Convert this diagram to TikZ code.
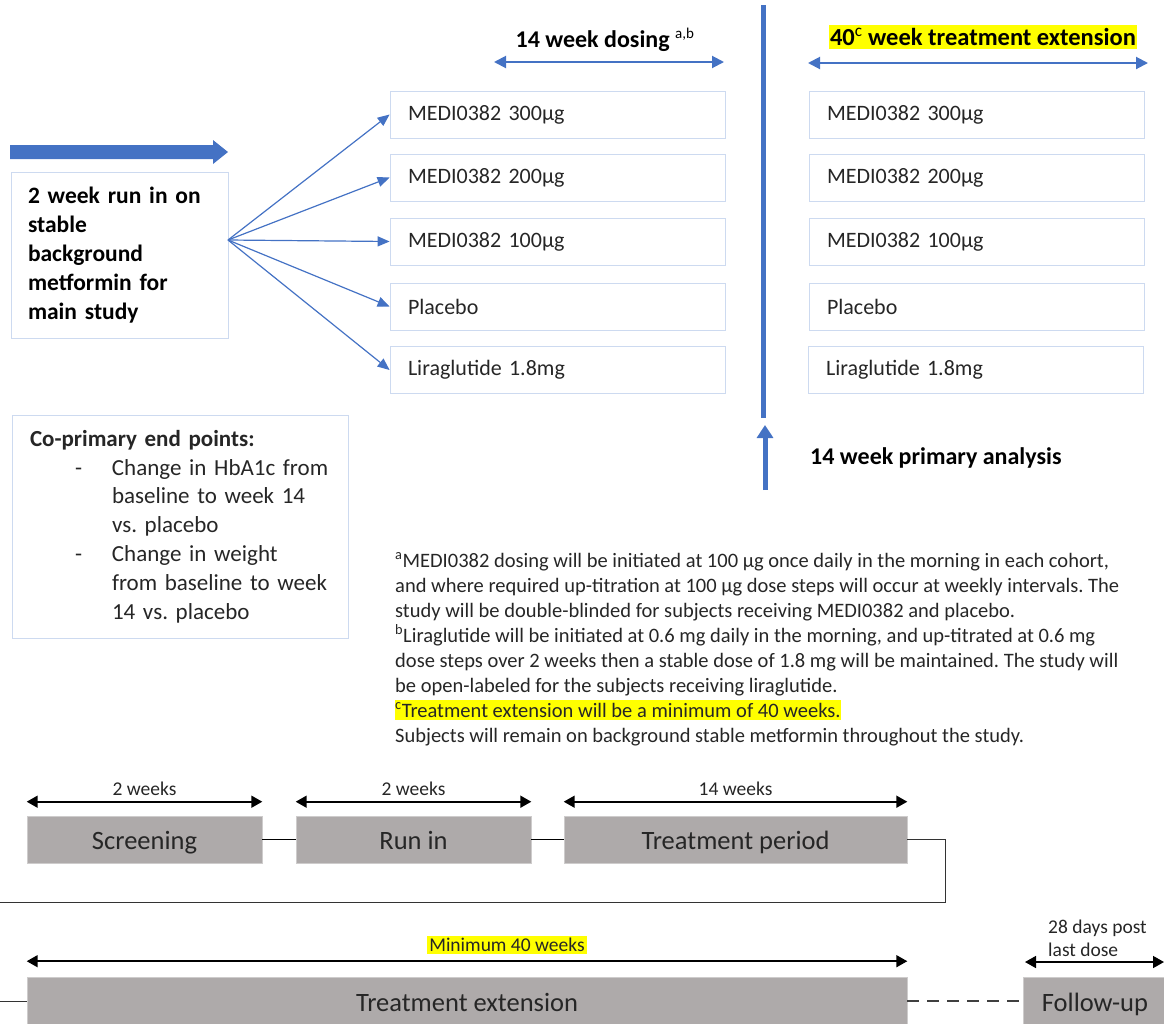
\documentclass[tikz,border=0pt]{standalone}
\usepackage{fontspec}
\setmainfont{Carlito}
\usetikzlibrary{arrows.meta}
\frenchspacing

\definecolor{msblue}{RGB}{68,114,196}
\definecolor{boxline}{RGB}{205,218,240}
\definecolor{bargray}{RGB}{174,170,170}
\definecolor{hlyellow}{RGB}{255,255,0}
\definecolor{txt}{RGB}{38,38,38}

\begin{document}
\begin{tikzpicture}[%
x=1pt, y=-1pt,
armbox/.style={draw=boxline, line width=0.8pt, text width=299pt, inner xsep=18pt, inner ysep=0pt, minimum height=47pt, align=left, font=\fontsize{22}{26}\selectfont, text=txt},
fanarrow/.style={msblue, line width=1.2pt, -{Triangle[length=12pt,width=10pt]}},
spanblue/.style={msblue, line width=2pt, {Triangle[length=12pt,width=12pt]}-{Triangle[length=12pt,width=12pt]}},
spanblack/.style={black, line width=1.6pt, {Triangle[length=11pt,width=12pt]}-{Triangle[length=11pt,width=12pt]}},
phase/.style={fill=bargray, draw=bargray!60!white, line width=0.6pt, minimum height=47pt, inner sep=0pt, text height=21pt, text depth=1pt, font=\fontsize{26.5}{30}\selectfont, text=txt},
weeklabel/.style={font=\fontsize{19.5}{24}\selectfont, text=txt, inner sep=1pt},
noteline/.style={anchor=base west, inner sep=0pt, font=\fontsize{20.5}{25}\selectfont, text=txt},
heading/.style={font=\bfseries\fontsize{24}{28}\selectfont, text=black},
]
\useasboundingbox (0,0) rectangle (1164,1023);
\clip (0,0) rectangle (1164,1023);
%% headings;
\node[heading] (dosing) at (605,40) {14 week dosing \textsuperscript{\mdseries\fontsize{15}{16}\selectfont a,b}};
\coordinate (dosL) at (494,62);
\coordinate (dosR) at (724,62);
\draw[spanblue] (dosL) -- (dosR);
\node[heading, font=\bfseries\fontsize{24.5}{28}\selectfont, fill=hlyellow, inner xsep=1pt, inner ysep=3pt] (extension) at (983,37) {40\textsuperscript{\mdseries c} week treatment extension};
\coordinate (extL) at (808,63);
\coordinate (extR) at (1148,63);
\draw[spanblue] (extL) -- (extR);
%% divider and primary analysis;
\draw[msblue, line width=5pt] (763,5) -- (763,418);
\coordinate (paFoot) at (765,490);
\coordinate (paTip) at (765,425);
\draw[msblue, line width=5pt, -{Triangle[length=13pt,width=16pt]}] (paFoot) -- (paTip);
\node[heading, anchor=west, inner sep=0pt] (primary) at (810,458) {14 week primary analysis};
%% run in;
\fill[msblue] (10,145) -- (213,145) -- (213,140) -- (228,152) -- (213,164) -- (213,159) -- (10,159) -- cycle;
\node[draw=boxline, line width=0.8pt, text width=183pt, inner xsep=17pt, minimum height=166pt, align=left, font=\bfseries\fontsize{23.5}{29}\selectfont, text=black] (runbox) at (119.5,255) {2 week run in on\\stable\\background\\metformin for\\main study};
\coordinate (fan) at (228,240);
%% arms;
\node[armbox] (d300) at (557.5,114.5) {MEDI0382 300µg};
\node[armbox] (d200) at (557.5,177.5) {MEDI0382 200µg};
\node[armbox] (d100) at (557.5,241.5) {MEDI0382 100µg};
\node[armbox] (plac) at (557.5,306.5) {Placebo};
\node[armbox] (lira) at (557.5,370) {Liraglutide 1.8mg};
\foreach \arm in {d300,d200,d100,plac,lira}
  \draw[fanarrow] (fan) -- (\arm.west);
\node[armbox] (e300) at (976.5,114.5) {MEDI0382 300µg};
\node[armbox] (e200) at (976.5,177.5) {MEDI0382 200µg};
\node[armbox] (e100) at (976.5,241.5) {MEDI0382 100µg};
\node[armbox] (eplac) at (976.5,306.5) {Placebo};
\node[armbox] (elira) at (975.5,370) {Liraglutide 1.8mg};
%% end points;
\node[draw=boxline, line width=0.8pt, text width=300pt, inner xsep=18pt, minimum height=223pt, align=left, font=\fontsize{23}{28.8}\selectfont, text=txt] (endpts) at (180,526.5) {\textbf{Co-primary end points:}\\
\hspace*{45pt}\makebox[37pt][l]{-}Change in HbA1c from\\
\hspace*{82pt}baseline to week 14\\
\hspace*{82pt}vs. placebo\\
\hspace*{45pt}\makebox[37pt][l]{-}Change in weight\\
\hspace*{82pt}from baseline to week\\
\hspace*{82pt}14 vs. placebo};
%% notes;
\node[noteline] (n1) at (395,567) {\textsuperscript{a}MEDI0382 dosing will be initiated at 100 µg once daily in the morning in each cohort,};
\node[noteline] (n2) at (395,592) {and where required up-titration at 100 µg dose steps will occur at weekly intervals. The};
\node[noteline] (n3) at (395,617) {study will be double-blinded for subjects receiving MEDI0382 and placebo.};
\node[noteline] (n4) at (395,642) {\textsuperscript{b}Liraglutide will be initiated at 0.6 mg daily in the morning, and up-titrated at 0.6 mg};
\node[noteline] (n5) at (395,667) {dose steps over 2 weeks then a stable dose of 1.8 mg will be maintained. The study will};
\node[noteline] (n6) at (395,692) {be open-labeled for the subjects receiving liraglutide.};
\node[noteline, fill=hlyellow, inner ysep=3pt] (n7) at (395,717) {\textsuperscript{c}Treatment extension will be a minimum of 40 weeks.};
\node[noteline] (n8) at (395,742) {Subjects will remain on background stable metformin throughout the study.};
%% timeline;
\node[phase, minimum width=235pt] (scr) at (144.5,839.5) {Screening};
\node[phase, minimum width=235pt] (run) at (413.5,839.5) {Run in};
\node[phase, minimum width=343pt] (trt) at (735.5,839.5) {Treatment period};
\node[phase, minimum width=880pt] (ext) at (467,1001) {Treatment extension};
\node[phase, minimum width=144pt] (fu) at (1095,1001) {Follow-up};
\draw[black, line width=0.8pt] (scr) -- (run);
\draw[black, line width=0.8pt] (run) -- (trt);
\draw[black!80, line width=1pt] (trt.east) -| (945,902) -- (-20,902) |- (ext.west);
\draw[black!75, line width=1.4pt, dash pattern=on 12pt off 8pt] (ext) -- (fu);
\draw[spanblack] ([yshift=14pt]scr.north west) -- ([yshift=14pt]scr.north east) node[weeklabel, midway, above=4pt] {2 weeks};
\draw[spanblack] ([yshift=14pt]run.north west) -- ([yshift=14pt]run.north east) node[weeklabel, midway, above=4pt] {2 weeks};
\draw[spanblack] ([yshift=14pt]trt.north west) -- ([yshift=14pt]trt.north east) node[weeklabel, midway, above=4pt] {14 weeks};
\draw[spanblack] ([yshift=16pt]ext.north west) -- ([yshift=16pt]ext.north east);
\node[weeklabel, fill=hlyellow, inner sep=2pt] (minwk) at (507,945) {Minimum 40 weeks};
\coordinate (fuL) at (1025,962);
\coordinate (fuR) at (1164,962);
\draw[spanblack] (fuL) -- (fuR);
\node[weeklabel, align=left, anchor=south west, font=\fontsize{19.5}{23}\selectfont] (fulabel) at (1047,958) {28 days post\\last dose};
\end{tikzpicture}
\end{document}
